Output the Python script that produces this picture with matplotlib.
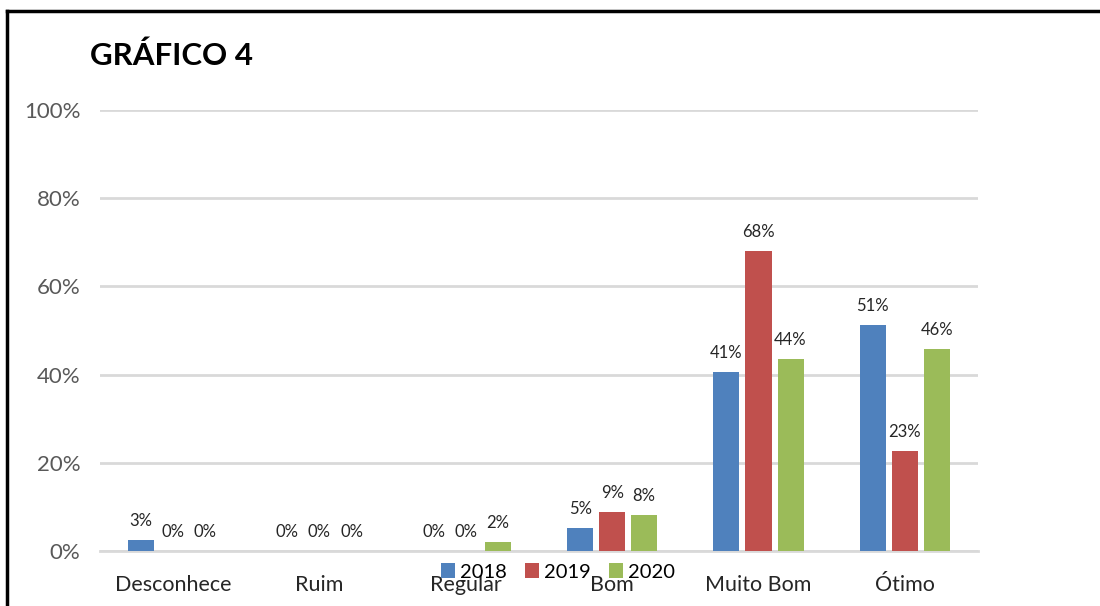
import matplotlib
matplotlib.use("Agg")
import matplotlib.pyplot as plt
import numpy as np
from matplotlib.lines import Line2D
from matplotlib.patches import Patch

categories = ["Desconhece", "Ruim", "Regular", "Bom", "Muito Bom", "Ótimo"]
years = ["2018", "2019", "2020"]
v2018 = [2.5, 0, 0, 5.2, 40.5, 51.2]
v2019 = [0, 0, 0, 8.8, 68.0, 22.7]
v2020 = [0, 0, 2.0, 8.2, 43.6, 45.7]
labels2018 = ["3%", "0%", "0%", "5%", "41%", "51%"]
labels2019 = ["0%", "0%", "0%", "9%", "68%", "23%"]
labels2020 = ["0%", "0%", "2%", "8%", "44%", "46%"]
yticks = [0, 20, 40, 60, 80, 100]
ytick_labels = ["0%", "20%", "40%", "60%", "80%", "100%"]
colors = ["#4f81bd", "#c0504d", "#9bbb59"]

plt.rcParams['font.family'] = ['Lato', 'DejaVu Sans']

fig = plt.figure(figsize=(11, 6.06), dpi=100)
W, H = 1100, 606
ax = fig.add_axes([100 / W, 1 - 551 / H, 878 / W, 441 / H])

x = np.arange(len(categories))
bw = 0.178
step = 0.219
series = [v2018, v2019, v2020]
labs = [labels2018, labels2019, labels2020]
for i, (vals, lb, c, yr) in enumerate(zip(series, labs, colors, years)):
    pos = x + (i - 1) * step
    ax.bar(pos, vals, width=bw, color=c, label=yr, zorder=3)
    for p, v, t in zip(pos, vals, lb):
        ax.annotate(t, (p, v), xytext=(0, 8), textcoords="offset points",
                    ha="center", va="bottom", fontsize=12, color="#262626")

ax.set_xlim(-0.5, len(categories) - 0.5)
ax.set_ylim(0, 100)
ax.set_yticks(yticks)
ax.set_yticklabels(ytick_labels, fontsize=16, color="#595959")
ax.set_xticks(x)
ax.set_xticklabels(categories, fontsize=15.5, color="#262626")
ax.tick_params(axis="both", length=0)
ax.tick_params(axis="y", pad=14)
ax.tick_params(axis="x", pad=17)
ax.grid(axis="y", color="#d9d9d9", linewidth=2, zorder=0)
for s in ["top", "right", "left"]:
    ax.spines[s].set_visible(False)
ax.spines["bottom"].set_color("#d9d9d9")
ax.spines["bottom"].set_linewidth(2)

handles = [Patch(facecolor=c, label=y) for c, y in zip(colors, years)]
fig.legend(handles=handles, loc="center", bbox_to_anchor=(558 / W, 1 - 572 / H),
           ncol=3, frameon=False, fontsize=14.5, handlelength=0.7, handleheight=0.7,
           handletextpad=0.25, columnspacing=0.9)

fig.text(90 / W, 1 - 56 / H, "GRÁFICO 4", fontsize=22.5, fontweight="bold",
         ha="left", va="center", color="#000000")

fig.add_artist(Line2D([7 / W, 7 / W], [0, 1 - 11 / H], color="black", linewidth=2.5,
                      transform=fig.transFigure))
fig.add_artist(Line2D([7 / W, 1], [1 - 11 / H, 1 - 11 / H], color="black", linewidth=2.5,
                      transform=fig.transFigure))

fig.savefig("out.png", dpi=100, facecolor="white")
